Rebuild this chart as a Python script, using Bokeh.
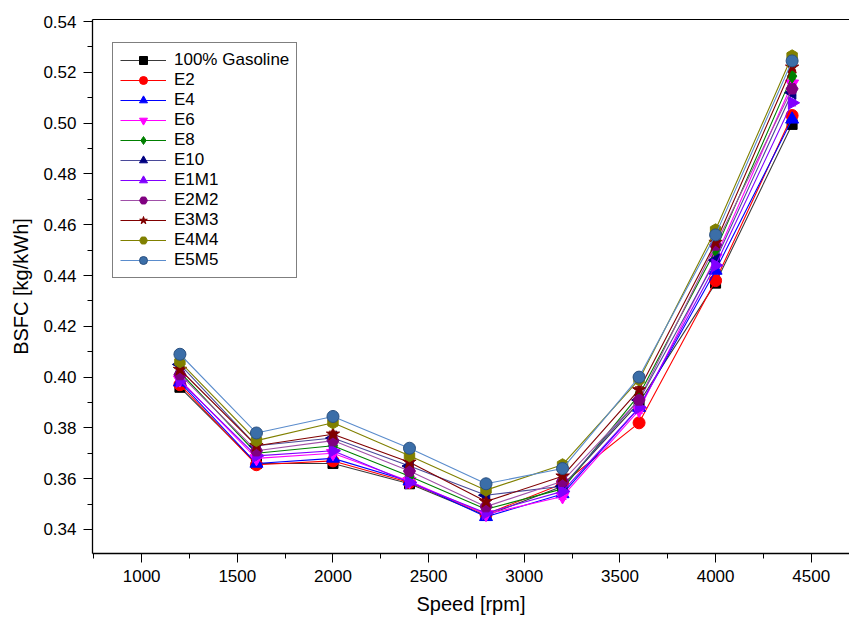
import math
from bokeh.plotting import figure
from bokeh.models import (Legend, LegendItem, LinearAxis, FixedTicker,
                          PrintfTickFormatter, Range1d, ColumnDataSource,
                          Whisker, TeeHead)
from bokeh.embed import file_html
from bokeh.resources import INLINE

# ---------------- data ----------------
speed = [1200, 1600, 2000, 2400, 2800, 3200, 3600, 4000, 4400]

gasoline = [0.396, 0.366, 0.366, 0.358, 0.3455, 0.357, 0.390, 0.437, 0.4995]
e2 = [0.397, 0.3655, 0.367, 0.3585, 0.346, 0.358, 0.382, 0.438, 0.503]
e4 = [0.398, 0.366, 0.368, 0.359, 0.345, 0.354, 0.388, 0.442, 0.5015]
e6 = [0.399, 0.368, 0.370, 0.359, 0.346, 0.353, 0.387, 0.447, 0.5155]
e8 = [0.402, 0.370, 0.373, 0.361, 0.348, 0.356, 0.393, 0.450, 0.5185]
e10 = [0.405, 0.373, 0.376, 0.365, 0.3535, 0.357, 0.391, 0.446, 0.512]
e1m1 = [0.3985, 0.369, 0.371, 0.3585, 0.3465, 0.355, 0.388, 0.444, 0.508]
e2m2 = [0.401, 0.371, 0.375, 0.363, 0.349, 0.359, 0.391, 0.452, 0.5135]
e3m3 = [0.403, 0.373, 0.3775, 0.3665, 0.351, 0.361, 0.395, 0.453, 0.522]
e4m4 = [0.406, 0.375, 0.382, 0.369, 0.3555, 0.3655, 0.399, 0.458, 0.5265]
e5m5 = [0.409, 0.378, 0.3845, 0.372, 0.358, 0.364, 0.400, 0.456, 0.5245]

err_half = 0.0012  # estimated half-width of the error bars

series_names = ["100% Gasoline", "E2", "E4", "E6", "E8", "E10",
                "E1M1", "E2M2", "E3M3", "E4M4", "E5M5"]
series_values = [gasoline, e2, e4, e6, e8, e10, e1m1, e2m2, e3m3, e4m4, e5m5]

x_major = [1000, 1500, 2000, 2500, 3000, 3500, 4000, 4500]
x_minor = [750, 1250, 1750, 2250, 2750, 3250, 3750, 4250]
y_major = [0.34, 0.36, 0.38, 0.40, 0.42, 0.44, 0.46, 0.48, 0.50, 0.52, 0.54]
y_minor = [0.35, 0.37, 0.39, 0.41, 0.43, 0.45, 0.47, 0.49, 0.51, 0.53]

# ---------------- styles ----------------
styles = [
    dict(marker="square", size=10, fill="#000000", edge="#000000", line="#3a3a3a", angle=0.0),
    dict(marker="circle", size=12, fill="#ff0000", edge="#ff0000", line="#ff0000", angle=0.0),
    dict(marker="triangle", size=13, fill="#0000ff", edge="#0000ff", line="#0000ff", angle=0.0),
    dict(marker="inverted_triangle", size=13, fill="#ff00ff", edge="#ff00ff", line="#ff00ff", angle=0.0),
    dict(marker="diamond", size=14, fill="#008000", edge="#008000", line="#008000", angle=0.0),
    dict(marker="triangle", size=13, fill="#000080", edge="#000080", line="#4a4a98", angle=math.pi / 2),
    dict(marker="triangle", size=13, fill="#8000ff", edge="#8000ff", line="#8000ff", angle=-math.pi / 2),
    dict(marker="hex", size=12, fill="#800080", edge="#800080", line="#a050a8", angle=0.0),
    dict(marker="star", size=14, fill="#800000", edge="#800000", line="#800000", angle=0.0),
    dict(marker="hex", size=12, fill="#808000", edge="#808000", line="#808000", angle=math.pi / 2),
    dict(marker="circle", size=12, fill="#3b6ea8", edge="#2a5080", line="#5a8ccc", angle=0.0),
]

FONT = "Liberation Sans"

p = figure(width=849, height=621, output_backend="svg", toolbar_location=None,
           x_range=Range1d(743, 4700), y_range=Range1d(0.33055, 0.5408),
           min_border_left=92, min_border_right=0, min_border_top=19,
           min_border_bottom=68)
p.grid.visible = False
p.outline_line_color = None
p.background_fill_color = "white"
p.border_fill_color = "white"

items = []
for name, vals, st in zip(series_names, series_values, styles):
    src = ColumnDataSource(dict(x=speed, y=vals,
                                lo=[v - err_half for v in vals],
                                hi=[v + err_half for v in vals]))
    lr = p.line("x", "y", source=src, line_color=st["line"], line_width=1.1)
    wh = Whisker(base="x", lower="lo", upper="hi", source=src,
                 line_color=st["edge"], line_width=1,
                 upper_head=TeeHead(size=8, line_color=st["edge"], line_width=1),
                 lower_head=TeeHead(size=8, line_color=st["edge"], line_width=1))
    p.add_layout(wh)
    sr = p.scatter("x", "y", source=src, marker=st["marker"], size=st["size"],
                   fill_color=st["fill"], line_color=st["edge"], angle=st["angle"])
    items.append(LegendItem(label=name, renderers=[lr, sr]))

legend = Legend(items=items, location=(20, 275), orientation="vertical",
                padding=7, spacing=0, margin=0, label_height=20, glyph_height=20,
                glyph_width=46, label_standoff=8,
                label_text_font=FONT, label_text_font_size="17px",
                label_text_color="black",
                border_line_color="black", border_line_width=1,
                background_fill_alpha=1.0)
p.add_layout(legend)

# x axis
xa = p.xaxis[0]
xa.ticker = FixedTicker(ticks=x_major, minor_ticks=x_minor)
xa.axis_label = "Speed [rpm]"
# y axis
ya = p.yaxis[0]
ya.ticker = FixedTicker(ticks=y_major, minor_ticks=y_minor)
ya.formatter = PrintfTickFormatter(format="%.2f")
ya.axis_label = "BSFC [kg/kWh]"

for ax in (xa, ya):
    ax.axis_line_color = "black"
    ax.axis_line_width = 1.3
    ax.major_tick_line_color = "black"
    ax.minor_tick_line_color = "black"
    ax.major_tick_out = 9
    ax.major_tick_in = 0
    ax.minor_tick_out = 5
    ax.minor_tick_in = 0
    ax.major_label_text_font = FONT
    ax.major_label_text_font_size = "17px"
    ax.major_label_text_color = "black"
    ax.axis_label_text_font = FONT
    ax.axis_label_text_font_size = "20px"
    ax.axis_label_text_font_style = "normal"
    ax.axis_label_text_color = "black"

xa.major_label_standoff = 7
xa.axis_label_standoff = 8
ya.major_label_standoff = 7
ya.axis_label_standoff = 8

# top frame line
top = LinearAxis(ticker=FixedTicker(ticks=[]), major_label_text_font_size="0px",
                 major_tick_line_color=None, minor_tick_line_color=None,
                 axis_line_color="black", axis_line_width=1.0)
p.add_layout(top, "above")

open("out.html", "w").write(file_html(p, INLINE))
